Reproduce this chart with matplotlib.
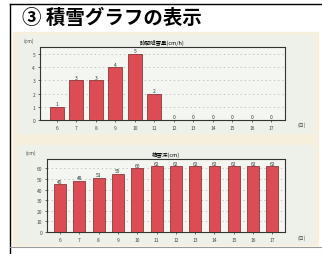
import matplotlib
matplotlib.use('Agg')
import matplotlib.pyplot as plt
from matplotlib.patches import Rectangle
import numpy as np

plt.rcParams['font.family'] = ['Noto Sans CJK JP', 'DejaVu Sans']

days = ['6', '7', '8', '9', '10', '11', '12', '13', '14', '15', '16', '17']
snowfall = [1, 3, 3, 4, 5, 2, 0, 0, 0, 0, 0, 0]
depth = [45, 48, 51, 55, 60, 62, 62, 62, 62, 62, 62, 62]

title = '③ 積雪グラフの表示'
top_title = '時間降雪量(cm/h)'
bottom_title = '積雪深(cm)'
unit = '(cm)'
xunit = '(日)'

bar_color = '#dc4c55'
edge_color = '#7a2424'

fig = plt.figure(figsize=(3.22, 2.55), dpi=100)
fig.patch.set_facecolor('white')

# frame and background panel
fig.add_artist(plt.Line2D([10/322, 1], [1 - 5/255, 1 - 5/255], color='black', lw=1.0))
fig.add_artist(plt.Line2D([10/322, 10/322], [0, 1 - 5/255], color='black', lw=1.0))
fig.add_artist(plt.Line2D([10/322, 1], [1 - 248/255, 1 - 248/255], color='#999999', lw=0.8))
fig.add_artist(Rectangle((13/322, 1 - 246/255), 305/322, 213/255, color='#f6efdc', zorder=0))
fig.add_artist(Rectangle((18/322, 1 - 134/255), 296/322, 98/255, color='#eef1ea', zorder=0))
fig.add_artist(Rectangle((18/322, 1 - 244/255), 296/322, 98/255, color='#eef1ea', zorder=0))

fig.text(22/322, 1 - 18/255, title, fontsize=14, fontweight='bold', va='center', ha='left')

x = np.arange(len(days))


def draw(ax, vals, ylim, ticks, width, ttl):
    ax.set_facecolor('#f4f6f2')
    bars = ax.bar(x, vals, width=width, color=bar_color, edgecolor=edge_color, lw=0.5, zorder=3)
    for b, v in zip(bars, vals):
        ax.text(b.get_x() + b.get_width()/2, v + ylim*0.01, str(v), ha='center', va='bottom',
                fontsize=3.5, color='#333333', zorder=4)
    ax.set_ylim(0, ylim)
    ax.set_yticks(ticks)
    ax.set_yticklabels([str(t) for t in ticks], fontsize=3.5, color='#444444')
    ax.set_xticks(x)
    ax.set_xticklabels(days, fontsize=3.5, color='#444444')
    ax.tick_params(length=1.5, width=0.4, pad=2)
    ax.yaxis.grid(True, ls=(0, (2, 4)), color='#b0b0b0', lw=0.5)
    ax.set_axisbelow(True)
    for s in ax.spines.values():
        s.set_linewidth(0.8)
        s.set_color('#333333')
    ax.set_title(ttl, fontsize=4, pad=2.5)


ax1 = fig.add_axes([40/322, 1 - 120.7/255, 245/322, 72.7/255])
draw(ax1, snowfall, 5.55, [0, 1, 2, 3, 4, 5], 0.72, top_title)
ax1.set_xlim(-0.87, 11.7)
fig.text(24/322, 1 - 43/255, unit, fontsize=3.5, color='#444444')
fig.text(298/322, 1 - 127/255, xunit, fontsize=3.5, color='#444444')

ax2 = fig.add_axes([47/322, 1 - 232.7/255, 238/322, 72.7/255])
draw(ax2, depth, 69, [0, 10, 20, 30, 40, 50, 60], 0.62, bottom_title)
ax2.set_xlim(-0.67, 11.65)
fig.text(26/322, 1 - 155/255, unit, fontsize=3.5, color='#444444')
fig.text(298/322, 1 - 240/255, xunit, fontsize=3.5, color='#444444')

fig.savefig('out.png', dpi=100)
